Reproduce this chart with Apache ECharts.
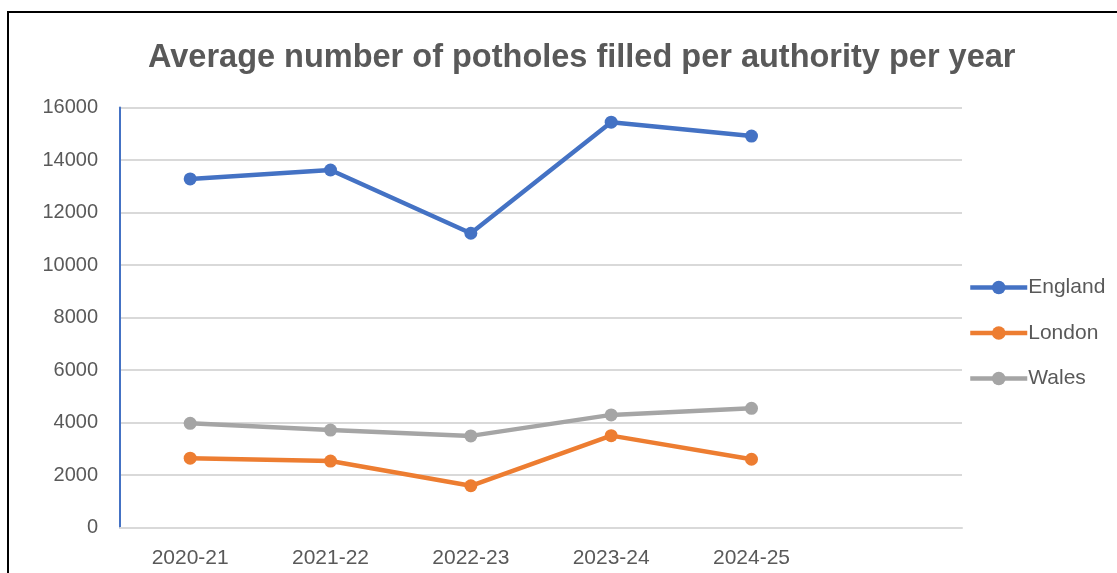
<!DOCTYPE html>
<html><head><meta charset="utf-8">
<script src="https://cdn.jsdelivr.net/npm/echarts@6/dist/echarts.min.js"></script>
<style>html,body{margin:0;padding:0;background:#fff}#c{width:1117px;height:573px}</style>
</head><body><div id="c"></div>
<script>
const title = 'Average number of potholes filled per authority per year';
const categories = ['2020-21','2021-22','2022-23','2023-24','2024-25',''];
const england = [13280, 13620, 11210, 15440, 14910];
const london = [2640, 2530, 1590, 3500, 2600];
const wales = [3970, 3710, 3490, 4290, 4540];
const yTicks = {min: 0, max: 16000, interval: 2000};

const chart = echarts.init(document.getElementById('c'));
const font = 'Liberation Sans';
function line(name, data, color) {
  return {name, type: 'line', data, symbol: 'circle', symbolSize: 13,
    lineStyle: {width: 4.5, color}, itemStyle: {color}, color};
}
chart.setOption({
  animation: false,
  title: {text: title, left: 143, top: 37,
    textStyle: {fontFamily: font, fontSize: 32.5, fontWeight: 'bold', color: '#595959'}},
  grid: {left: 120, right: 155, top: 107.5, bottom: 45.5},
  legend: {orient: 'vertical', left: 963, top: 272, itemGap: 24.5, itemWidth: 57, itemHeight: 17,
    lineStyle: {width: 4.5}, itemStyle: {borderWidth: 0},
    textStyle: {fontFamily: font, fontSize: 21, color: '#595959', padding: [0,0,0,-4]},
    data: ['England','London','Wales']},
  xAxis: {type: 'category', data: categories, boundaryGap: true,
    axisLine: {lineStyle: {color: '#d9d9d9', width: 2}},
    axisTick: {show: false},
    axisLabel: {fontFamily: font, fontSize: 21, color: '#595959', margin: 20}},
  yAxis: {type: 'value', min: yTicks.min, max: yTicks.max, interval: yTicks.interval,
    axisLine: {show: true, lineStyle: {color: '#4472C4', width: 2}},
    axisTick: {show: false},
    splitLine: {lineStyle: {color: '#d9d9d9', width: 2}},
    axisLabel: {fontFamily: font, fontSize: 20, color: '#595959', margin: 22,
      formatter: v => String(v)}},
  series: [line('England', england, '#4472C4'), line('London', london, '#ED7D31'), line('Wales', wales, '#A5A5A5')],
  graphic: [
    {type: 'line', shape: {x1: 7, y1: 12, x2: 1117, y2: 12}, style: {stroke: '#000', lineWidth: 2}},
    {type: 'line', shape: {x1: 8, y1: 12, x2: 8, y2: 573}, style: {stroke: '#000', lineWidth: 2}}
  ]
});
</script></body></html>
